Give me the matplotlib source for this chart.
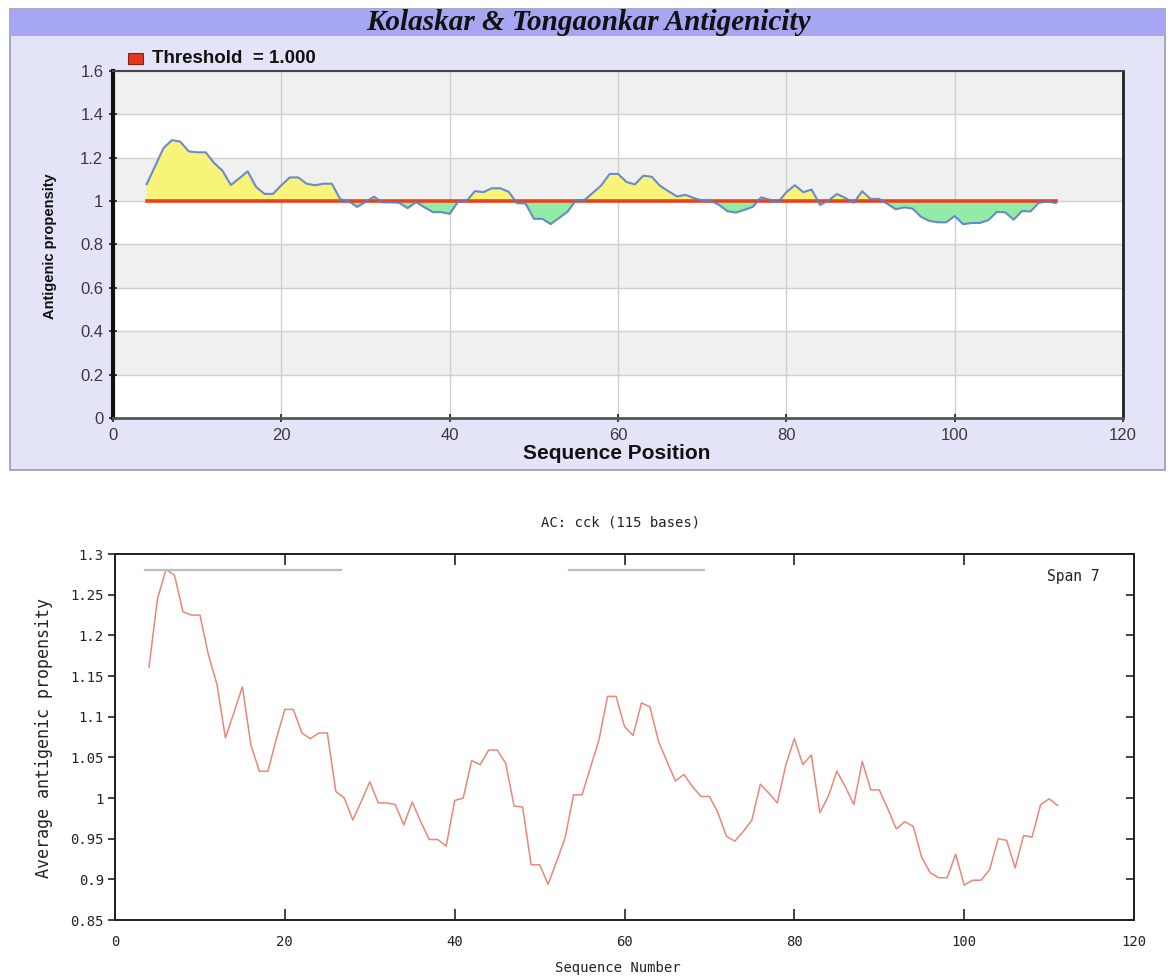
import numpy as np
import matplotlib.pyplot as plt
from matplotlib.patches import Rectangle

# averaged antigenic propensity (span 7), positions 4..111
avg_prop = [1.161, 1.245, 1.281, 1.274, 1.229, 1.225, 1.225, 1.176, 1.140, 1.074,
            1.105, 1.137, 1.065, 1.033, 1.033, 1.073, 1.109, 1.109, 1.080, 1.073,
            1.080, 1.080, 1.008, 1.000, 0.973, 0.996, 1.020, 0.994, 0.994, 0.992,
            0.967, 0.995, 0.971, 0.949, 0.949, 0.941, 0.997, 1.000, 1.046, 1.041,
            1.059, 1.059, 1.043, 0.990, 0.989, 0.918, 0.918, 0.894, 0.922, 0.951,
            1.004, 1.004, 1.038, 1.072, 1.125, 1.125, 1.088, 1.077, 1.117, 1.112,
            1.070, 1.045, 1.021, 1.029, 1.014, 1.002, 1.002, 0.982, 0.953, 0.947,
            0.959, 0.973, 1.017, 1.006, 0.994, 1.041, 1.073, 1.041, 1.053, 0.982,
            1.002, 1.033, 1.014, 0.992, 1.045, 1.010, 1.010, 0.987, 0.962, 0.971,
            0.965, 0.927, 0.908, 0.902, 0.902, 0.931, 0.893, 0.899, 0.899, 0.912,
            0.950, 0.948, 0.914, 0.954, 0.952, 0.992, 0.999, 0.991]
avg_pos = np.arange(4, 4 + len(avg_prop))

# web server version: one extra leading window, positions 4..112
kt_first = 1.078
kt_pos = np.arange(4, 5 + len(avg_prop))
kt_prop = np.array([kt_first] + avg_prop)
threshold = 1.000

# predicted antigenic stretches (marked at 1.28 in the lower plot)
segments = [(3.5, 26.6), (53.5, 69.4)]
seg_level = 1.28

fig = plt.figure(figsize=(11.75, 9.77), dpi=100)

# ---------- upper plot: panel + title bar ----------
fig.patches.append(Rectangle((0.0085, 0.519), 0.983, 0.4718, transform=fig.transFigure,
                             facecolor='#E4E4F8', edgecolor='#9A9AB0', lw=1.2, zorder=-2))
fig.patches.append(Rectangle((0.0085, 0.9632), 0.983, 0.0276, transform=fig.transFigure,
                             facecolor='#A6A6F2', edgecolor='none', zorder=-1))
fig.text(0.5004, 0.9772, 'Kolaskar & Tongaonkar Antigenicity', ha='center', va='center',
         family='Liberation Serif', weight='bold', style='italic', size=21, color='#111111')

fig.patches.append(Rectangle((0.109, 0.9345), 0.0125, 0.0115, transform=fig.transFigure,
                             facecolor='#E03820', edgecolor='#902010', lw=0.8))
fig.text(0.1294, 0.9405, 'Threshold  = 1.000', ha='left', va='center',
         family='Liberation Sans', weight='bold', size=13.5, color='#111111')

ax1 = fig.add_axes([0.0962, 0.5722, 0.8596, 0.3552])
ax1.set_xlim(0, 120)
ax1.set_ylim(0, 1.6)
for k in range(8):
    ax1.axhspan(k * 0.2, (k + 1) * 0.2, color='#F0F0F0' if k % 2 else 'white', lw=0, zorder=0)
ax1.set_xticks(np.arange(0, 121, 20))
ax1.set_yticks(np.arange(0, 1.61, 0.2))
ax1.set_yticklabels(['0', '0.2', '0.4', '0.6', '0.8', '1', '1.2', '1.4', '1.6'])
ax1.grid(True, color='#CFCFCF', lw=1, zorder=1)
ax1.set_axisbelow(True)

ax1.fill_between(kt_pos, kt_prop, threshold, where=kt_prop >= threshold,
                 interpolate=True, color='#F8F47A', lw=0, zorder=2)
ax1.fill_between(kt_pos, kt_prop, threshold, where=kt_prop <= threshold,
                 interpolate=True, color='#92ECA6', lw=0, zorder=2)
ax1.plot([kt_pos[0], kt_pos[-1]], [threshold, threshold], color='#E8441C', lw=2.6, zorder=3)
ax1.plot(kt_pos, kt_prop, color='#5B7FCC', lw=1.5, alpha=0.9, zorder=4)

ax1.tick_params(direction='inout', length=6, width=1.2, colors='#222222',
                labelsize=12, labelcolor='#3A3A3A', pad=4)
for lab in ax1.get_xticklabels() + ax1.get_yticklabels():
    lab.set_family('Liberation Sans')
ax1.spines['left'].set_linewidth(3)
ax1.spines['left'].set_color('#111111')
ax1.spines['bottom'].set_linewidth(2)
ax1.spines['bottom'].set_color('#555555')
ax1.spines['top'].set_linewidth(1.5)
ax1.spines['top'].set_color('#444444')
ax1.spines['right'].set_linewidth(2)
ax1.spines['right'].set_color('#222222')

fig.text(0.0426, 0.748, 'Antigenic propensity', rotation=90, ha='center', va='center',
         family='Liberation Sans', weight='bold', size=10.5, color='#111111')
fig.text(0.525, 0.5363, 'Sequence Position', ha='center', va='center',
         family='Liberation Sans', weight='bold', size=15, color='#111111')

# ---------- lower plot ----------
mono = 'DejaVu Sans Mono'
ax2 = fig.add_axes([0.0979, 0.0583, 0.8672, 0.3746])
ax2.set_xlim(0, 120)
ax2.set_ylim(0.85, 1.3)
ax2.plot(avg_pos, avg_prop, color='#E88878', lw=1.1)
for x0, x1 in segments:
    ax2.plot([x0, x1], [seg_level, seg_level], color='#BDBDBD', lw=1.6)

ax2.set_xticks(np.arange(0, 121, 20))
ax2.set_yticks(np.arange(0.85, 1.301, 0.05))
ax2.set_yticklabels(['0.85', '0.9', '0.95', '1', '1.05', '1.1', '1.15', '1.2', '1.25', '1.3'])
ax2.tick_params(axis='x', direction='in', length=8, width=1.2, top=True,
                labelsize=10, pad=11, colors='#222222')
ax2.tick_params(axis='y', direction='out', length=5, width=1.2,
                labelsize=10, pad=3, colors='#222222')
for lab in ax2.get_xticklabels() + ax2.get_yticklabels():
    lab.set_family(mono)
# inward ticks on the right edge
ax2r = ax2.twinx()
ax2r.set_ylim(ax2.get_ylim())
ax2r.set_yticks(np.arange(0.85, 1.301, 0.05))
ax2r.tick_params(axis='y', direction='in', length=6, width=1.2, labelright=False,
                 colors='#222222')
for ax in (ax2, ax2r):
    for sp in ax.spines.values():
        sp.set_linewidth(1.4)
        sp.set_color('#222222')

ax2.text(0.9657, 0.938, 'Span 7', transform=ax2.transAxes, ha='right', va='center',
         family=mono, size=10.5, color='#222222')
fig.text(0.528, 0.4647, 'AC: cck (115 bases)', ha='center', va='center',
         family=mono, size=10, color='#222222')
fig.text(0.0374, 0.2446, 'Average antigenic propensity', rotation=90, ha='center',
         va='center', family=mono, size=12, color='#222222')
fig.text(0.526, 0.0092, 'Sequence Number', ha='center', va='center',
         family=mono, size=10, color='#222222')

fig.savefig('out.png', dpi=100)
